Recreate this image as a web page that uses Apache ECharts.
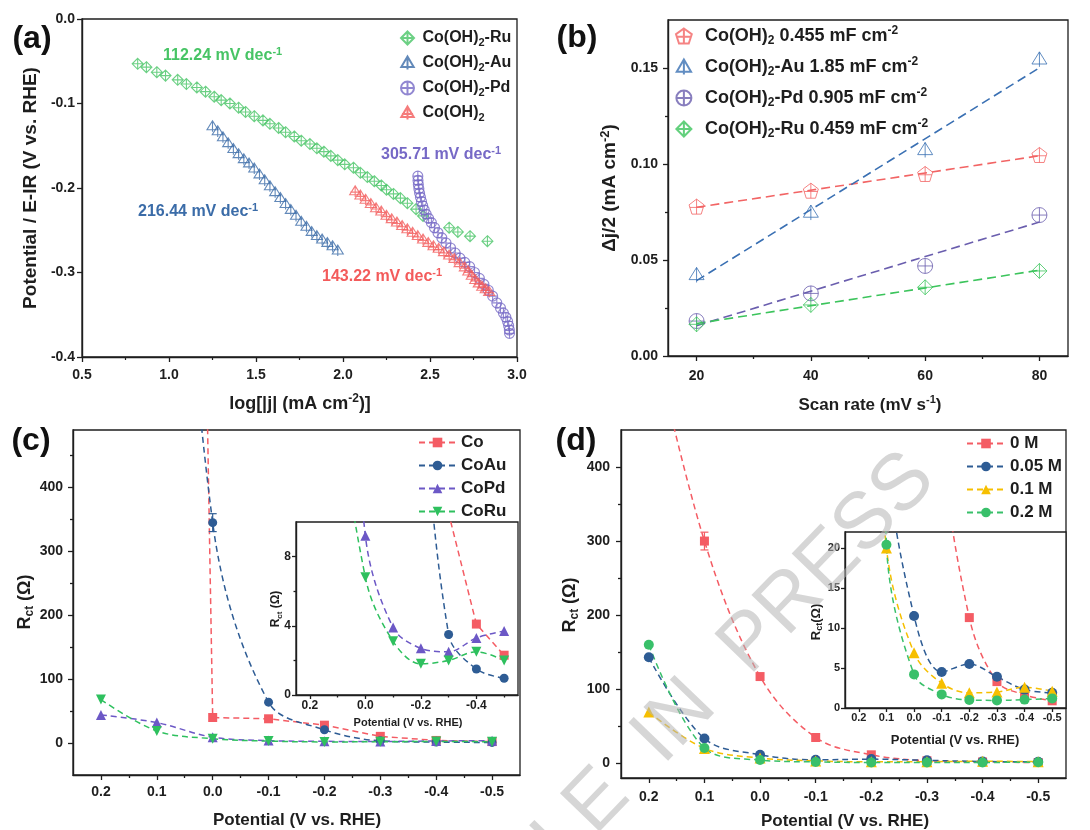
<!DOCTYPE html>
<html><head><meta charset="utf-8">
<script src="https://cdn.jsdelivr.net/npm/echarts@6/dist/echarts.min.js"></script>
<style>html,body{margin:0;padding:0;background:#fff}#c{width:1090px;height:830px}</style>
</head><body><div id="c"></div><script>
// ================= DATA =================
// (a) Tafel plots: log|j| vs potential
const tafelRuX = [0.82,0.87,0.93,0.98,1.05,1.10,1.16,1.21,1.26,1.30,1.35,1.40,1.44,1.49,1.54,1.58,1.63,1.67,1.72,1.76,1.81,1.85,1.89,1.93,1.97,2.01,2.06,2.10,2.14,2.18,2.22,2.25,2.29,2.33,2.37,2.42,2.46,2.61,2.66,2.73,2.83];
const tafelRuY = [-0.053,-0.057,-0.063,-0.067,-0.072,-0.077,-0.081,-0.086,-0.092,-0.096,-0.100,-0.105,-0.110,-0.115,-0.120,-0.124,-0.129,-0.134,-0.139,-0.144,-0.148,-0.153,-0.157,-0.162,-0.167,-0.172,-0.176,-0.182,-0.187,-0.192,-0.197,-0.202,-0.207,-0.212,-0.218,-0.225,-0.233,-0.247,-0.252,-0.257,-0.263];
const tafelAuX = [1.25,1.28,1.31,1.34,1.37,1.40,1.43,1.46,1.49,1.52,1.55,1.58,1.61,1.64,1.67,1.70,1.73,1.76,1.79,1.82,1.85,1.88,1.91,1.94,1.97];
const tafelAuY = [-0.127,-0.133,-0.140,-0.147,-0.154,-0.160,-0.166,-0.171,-0.177,-0.184,-0.191,-0.198,-0.205,-0.212,-0.219,-0.226,-0.233,-0.240,-0.246,-0.252,-0.257,-0.261,-0.265,-0.269,-0.274];
const tafelPdX = [2.430,2.431,2.433,2.436,2.440,2.445,2.451,2.458,2.467,2.478,2.492,2.508,2.526,2.546,2.568,2.592,2.618,2.645,2.672,2.700,2.728,2.756,2.784,2.810,2.835,2.860,2.884,2.905,2.922,2.936,2.946,2.952,2.956,2.957];
const tafelPdY = [-0.186,-0.191,-0.196,-0.201,-0.206,-0.211,-0.216,-0.221,-0.226,-0.231,-0.236,-0.241,-0.247,-0.253,-0.259,-0.265,-0.271,-0.277,-0.283,-0.288,-0.293,-0.300,-0.307,-0.314,-0.321,-0.328,-0.336,-0.342,-0.348,-0.353,-0.358,-0.363,-0.368,-0.372];
const tafelCoX = [2.07,2.10,2.13,2.16,2.19,2.22,2.25,2.28,2.31,2.34,2.37,2.40,2.43,2.46,2.49,2.52,2.55,2.58,2.61,2.64,2.67,2.70,2.72,2.74,2.76,2.78,2.80,2.82,2.84];
const tafelCoY = [-0.204,-0.209,-0.214,-0.219,-0.224,-0.228,-0.233,-0.237,-0.241,-0.245,-0.249,-0.253,-0.257,-0.261,-0.265,-0.269,-0.272,-0.276,-0.280,-0.284,-0.289,-0.294,-0.299,-0.304,-0.309,-0.313,-0.317,-0.320,-0.323];
const tafelSlopes = ['112.24','216.44','305.71','143.22'];

// (b) double-layer capacitance
const scanRates = [20, 40, 60, 80];
const cdlCo = [0.0778, 0.0861, 0.0948, 0.1047];
const cdlAu = [0.0422, 0.0747, 0.1073, 0.1545];
const cdlPd = [0.0182, 0.0326, 0.0469, 0.0734];
const cdlRu = [0.0165, 0.0266, 0.0358, 0.0443];
const cdlLabels = ['0.455', '1.85', '0.905', '0.459'];

// (c),(d) charge-transfer resistance vs potential
const potentials = [0.2, 0.1, 0.0, -0.1, -0.2, -0.3, -0.4, -0.5];
const rctCo   = [null, 5000, 40, 38, 28, 10.5, 4.1, 2.3];
const rctCoAu = [null, 1400, 345, 64, 20.8, 3.5, 1.5, 0.97];
const rctCoPd = [44, 32, 9.2, 3.9, 2.7, 2.5, 3.3, 3.7];
const rctCoRu = [68, 19, 6.8, 3.1, 1.8, 2.0, 2.5, 2.0];
const errCoAu = [0, 0, 14, 0, 0, 0, 0, 0];
const rct0M   = [600, 300, 117, 34.7, 11.3, 3.3, 1.65, 0.9];
const rct005M = [143, 33.3, 11.5, 4.5, 5.5, 3.9, 2.3, 1.9];
const rct01M  = [69, 20, 6.9, 3.1, 1.9, 2.0, 2.6, 2.1];
const rct02M  = [160, 20.4, 4.2, 1.7, 1.0, 0.95, 1.05, 1.2];
const err0M   = [0, 12, 0, 0, 0, 0, 0, 0];

// tick values
const ticksB_x = [20, 40, 60, 80];
const ticksB_y = [0, 0.05, 0.10, 0.15];
const ticksPot = [0.2, 0.1, 0.0, -0.1, -0.2, -0.3, -0.4, -0.5];
const ticksPotInsetC = [0.2, 0.0, -0.2, -0.4];
const ticksRct = [0, 100, 200, 300, 400];
const ticksInsetC_y = [0, 4, 8];
const ticksInsetD_y = [0, 5, 10, 15, 20];

// ================= STYLE =================
const FONT = '"Liberation Sans", Arial, Helvetica, sans-serif';
const INK = '#1e1e1e';
const C = {
  aGreen:'#47c465', aBlue:'#3b6ca8', aPurple:'#7669c6', aRed:'#f35b5b',
  bRed:'#f26464', bBlue:'#3a70b3', bPurple:'#6a5eae', bGreen:'#3cc45c',
  red:'#f45c64', blue:'#2e5c94', purple:'#6c58c6', green:'#2ec05e', gold:'#f6bf00', green2:'#39c06a'
};
const SYM = {
  diamondX: 'path://M0,-10L10,0L0,10L-10,0Z M0,-10L0,10 M-10,0L10,0',
  triV: 'path://M0,-10L10,7L-10,7Z M0,-10L0,11',
  triX: 'path://M0,-10L10,7L-10,7Z M0,-10L0,11 M-9,2L9,2',
  circleX: 'path://M-10,0A10,10 0 1,1 10,0A10,10 0 1,1 -10,0Z M0,-10L0,10 M-10,0L10,0',
  pentX: 'path://M0,-10L9.51,-3.09L5.88,8.09L-5.88,8.09L-9.51,-3.09Z M0,-10L0,8.09 M-8.5,0L8.5,0'
};

function pairs(xs, ys) { return xs.map((x, i) => [x, ys[i]]).filter(p => p[1] != null); }
function linFit(xs, ys) {
  const n = xs.length, mx = xs.reduce((a, b) => a + b) / n, my = ys.reduce((a, b) => a + b) / n;
  let sxy = 0, sxx = 0;
  for (let i = 0; i < n; i++) { sxy += (xs[i] - mx) * (ys[i] - my); sxx += (xs[i] - mx) ** 2; }
  const b = sxy / sxx, a = my - b * mx;
  return [[xs[0], a + b * xs[0]], [xs[n - 1], a + b * xs[n - 1]]];
}
function rt(size, color) {
  const sub = Math.round(size * 0.66), lh = Math.round(size * 0.5);
  return {
    t:{fontSize:size, fontWeight:'bold', fontFamily:FONT, fill:color, color:color, lineHeight:size + 4},
    s:{fontSize:sub, fontWeight:'bold', fontFamily:FONT, fill:color, color:color, lineHeight:lh, verticalAlign:'bottom'},
    p:{fontSize:sub, fontWeight:'bold', fontFamily:FONT, fill:color, color:color, lineHeight:lh, verticalAlign:'top'}
  };
}
function lab(size, fmt, margin, custom) {
  const o = {show:true, color:INK, fontSize:size, fontWeight:'bold', fontFamily:FONT, margin:margin, formatter:fmt};
  if (custom) o.customValues = custom;
  return o;
}
function tick(len, custom) {
  const o = {show:true, inside:false, length:len, lineStyle:{color:INK, width:1.3}};
  if (custom) o.customValues = custom;
  return o;
}
function axis(grid, pos, min, max, extra) {
  return Object.assign({
    gridIndex:grid, type:'value', position:pos, min:min, max:max,
    axisLine:{show:true, onZero:false, lineStyle:{color:INK, width:1.4}},
    splitLine:{show:false}, minorSplitLine:{show:false}
  }, extra);
}
function minorAxis(grid, pos, min, max, inverse, vals, len) {
  return axis(grid, pos, min, max, {inverse:!!inverse, axisLine:{show:false, onZero:false},
    axisLabel:{show:false}, axisTick:tick(len || 3, vals)});
}
const f1 = v => (+v).toFixed(1), f2 = v => (+v).toFixed(2), f0 = v => String(Math.round(v));
const half = arr => arr.slice(0, -1).map((v, i) => +((v + arr[i + 1]) / 2).toFixed(3));

// ================= AXES =================
const xAxis = [
  axis(0, 'bottom', 0.5, 3.0, {interval:0.5, axisLabel:lab(14, f1, 11), axisTick:tick(5),
    minorTick:{show:true, splitNumber:2, length:3, lineStyle:{color:INK, width:1.2}}}),
  axis(1, 'bottom', 15, 85, {axisLabel:lab(14, f0, 13, ticksB_x), axisTick:tick(5, ticksB_x)}),
  minorAxis(1, 'bottom', 15, 85, false, half(ticksB_x)),
  axis(2, 'bottom', -0.55, 0.25, {inverse:true, axisLabel:lab(14, f1, 10, ticksPot), axisTick:tick(5, ticksPot)}),
  minorAxis(2, 'bottom', -0.55, 0.25, true, half(ticksPot)),
  axis(3, 'bottom', -0.55, 0.25, {inverse:true, axisLabel:lab(12, f1, 5, ticksPotInsetC), axisTick:tick(4, ticksPotInsetC)}),
  minorAxis(3, 'bottom', -0.55, 0.25, true, [0.1, -0.1, -0.3, -0.5], 2.5),
  axis(4, 'bottom', -0.55, 0.25, {inverse:true, axisLabel:lab(14, f1, 12, ticksPot), axisTick:tick(5, ticksPot)}),
  minorAxis(4, 'bottom', -0.55, 0.25, true, half(ticksPot)),
  axis(5, 'bottom', -0.55, 0.25, {inverse:true, axisLabel:lab(11, f1, 4, ticksPot), axisTick:tick(4, ticksPot)})
];
const yAxis = [
  axis(0, 'left', -0.4, 0, {interval:0.1, axisLabel:lab(14, f1, 7), axisTick:tick(5)}),
  axis(1, 'left', 0, 0.175, {axisLabel:lab(14, f2, 10, ticksB_y), axisTick:tick(5, ticksB_y)}),
  minorAxis(1, 'left', 0, 0.175, false, [0.025, 0.075, 0.125]),
  axis(2, 'left', -50, 490, {axisLabel:lab(14, f0, 10, ticksRct), axisTick:tick(5, ticksRct)}),
  minorAxis(2, 'left', -50, 490, false, [50, 150, 250, 350, 450]),
  axis(3, 'left', 0, 10, {axisLabel:lab(12, f0, 5, ticksInsetC_y), axisTick:tick(4, ticksInsetC_y)}),
  minorAxis(3, 'left', 0, 10, false, [2, 6], 2.5),
  axis(4, 'left', -20, 450, {axisLabel:lab(14, f0, 11, ticksRct), axisTick:tick(5, ticksRct)}),
  minorAxis(4, 'left', -20, 450, false, [50, 150, 250, 350]),
  axis(5, 'left', 0, 22, {axisLabel:lab(11, f0, 5, ticksInsetD_y), axisTick:tick(4, ticksInsetD_y)})
];
const gridBase = {show:true, borderColor:INK, borderWidth:1.3, containLabel:false, outerBoundsMode:'none'};
const grid = [
  Object.assign({left:82, top:19, width:435, height:338, backgroundColor:'transparent'}, gridBase),
  Object.assign({left:668, top:20, width:400, height:336, backgroundColor:'transparent'}, gridBase),
  Object.assign({left:73, top:430, width:447, height:345, backgroundColor:'transparent'}, gridBase),
  Object.assign({left:296, top:522, width:222, height:173, backgroundColor:'#fff'}, gridBase),
  Object.assign({left:621, top:430, width:445, height:348, backgroundColor:'transparent'}, gridBase),
  Object.assign({left:845, top:532, width:221, height:176, backgroundColor:'#fff'}, gridBase)
];

// ================= SERIES =================
function sc(name, xs, ys, sym, size, color) {
  return {type:'scatter', name, xAxisIndex:0, yAxisIndex:0, data:pairs(xs, ys), symbol:sym, symbolSize:size,
    itemStyle:{color:'rgba(255,255,255,0)', borderColor:color, borderWidth:1.1}, z:3};
}
function scB(name, ys, sym, color) {
  return {type:'scatter', name, xAxisIndex:1, yAxisIndex:1, data:pairs(scanRates, ys), symbol:sym, symbolSize:15,
    itemStyle:{color:'rgba(255,255,255,0)', borderColor:color, borderWidth:1}, z:3};
}
function fitB(ys, color) {
  return {type:'line', name:'fit', xAxisIndex:1, yAxisIndex:1, data:linFit(scanRates, ys), symbol:'none', silent:true,
    lineStyle:{color, width:1.6, type:[9, 5]}, z:2};
}
function ln(name, ax, ys, sym, color, size, rot, smooth) {
  return {type:'line', name, xAxisIndex:ax, yAxisIndex:ax, data:pairs(potentials, ys), symbol:sym, symbolSize:size || 9,
    symbolRotate:rot || 0, smooth:smooth == null ? 0.35 : smooth, clip:true, itemStyle:{color},
    lineStyle:{color, width:1.5, type:[6, 4]}, z:3};
}
function errBars(ax, ys, errs, color) {
  const d = potentials.map((p, i) => [p, ys[i], errs[i]]).filter(r => r[2] > 0);
  return {type:'custom', xAxisIndex:ax, yAxisIndex:ax, data:d, silent:true, z:4,
    renderItem:(params, api) => {
      const x = api.value(0), y = api.value(1), e = api.value(2);
      const t = api.coord([x, y + e]), b = api.coord([x, y - e]), w = 4;
      const st = {stroke:color, lineWidth:1.2};
      return {type:'group', children:[
        {type:'line', shape:{x1:t[0], y1:t[1], x2:b[0], y2:b[1]}, style:st},
        {type:'line', shape:{x1:t[0] - w, y1:t[1], x2:t[0] + w, y2:t[1]}, style:st},
        {type:'line', shape:{x1:b[0] - w, y1:b[1], x2:b[0] + w, y2:b[1]}, style:st}]};
    }};
}
const nB = ['Co(OH)2 ' + cdlLabels[0], 'Co(OH)2-Au ' + cdlLabels[1], 'Co(OH)2-Pd ' + cdlLabels[2], 'Co(OH)2-Ru ' + cdlLabels[3]];
const series = [
  sc('Co(OH)2-Ru', tafelRuX, tafelRuY, SYM.diamondX, 11, C.aGreen),
  sc('Co(OH)2-Au', tafelAuX, tafelAuY, SYM.triV, 11, C.aBlue),
  sc('Co(OH)2-Pd', tafelPdX, tafelPdY, SYM.circleX, 10, C.aPurple),
  sc('Co(OH)2', tafelCoX, tafelCoY, SYM.triX, 11, C.aRed),
  fitB(cdlCo, C.bRed), fitB(cdlAu, C.bBlue), fitB(cdlPd, C.bPurple), fitB(cdlRu, C.bGreen),
  scB(nB[0], cdlCo, SYM.pentX, C.bRed), scB(nB[1], cdlAu, SYM.triV, C.bBlue),
  scB(nB[2], cdlPd, SYM.circleX, C.bPurple), scB(nB[3], cdlRu, SYM.diamondX, C.bGreen),
  ln('Co', 3, rctCo, 'rect', C.red, 9, 0, false), ln('CoAu', 3, rctCoAu, 'circle', C.blue, 9),
  ln('CoPd', 3, rctCoPd, 'triangle', C.purple, 10), ln('CoRu', 3, rctCoRu, 'triangle', C.green, 10, 180),
  errBars(3, rctCoAu, errCoAu, C.blue),
  ln('Co', 5, rctCo, 'rect', C.red, 9, 0, false), ln('CoAu', 5, rctCoAu, 'circle', C.blue, 9),
  ln('CoPd', 5, rctCoPd, 'triangle', C.purple, 10), ln('CoRu', 5, rctCoRu, 'triangle', C.green, 10, 180),
  ln('0 M', 7, rct0M, 'rect', C.red, 9), ln('0.05 M', 7, rct005M, 'circle', C.blue, 10),
  ln('0.1 M', 7, rct01M, 'triangle', C.gold, 11), ln('0.2 M', 7, rct02M, 'circle', C.green2, 10),
  errBars(7, rct0M, err0M, C.red),
  ln('0 M', 9, rct0M, 'rect', C.red, 9), ln('0.05 M', 9, rct005M, 'circle', C.blue, 10),
  ln('0.1 M', 9, rct01M, 'triangle', C.gold, 11), ln('0.2 M', 9, rct02M, 'circle', C.green2, 10)
];

// ================= LEGENDS =================
const richLegend = {
  'Co(OH)2-Ru':'{t|Co(OH)}{s|2}{t|-Ru}', 'Co(OH)2-Au':'{t|Co(OH)}{s|2}{t|-Au}',
  'Co(OH)2-Pd':'{t|Co(OH)}{s|2}{t|-Pd}', 'Co(OH)2':'{t|Co(OH)}{s|2}'
};
richLegend[nB[0]] = '{t|Co(OH)}{s|2}{t| ' + cdlLabels[0] + ' mF cm}{p|-2}';
richLegend[nB[1]] = '{t|Co(OH)}{s|2}{t|-Au ' + cdlLabels[1] + ' mF cm}{p|-2}';
richLegend[nB[2]] = '{t|Co(OH)}{s|2}{t|-Pd ' + cdlLabels[2] + ' mF cm}{p|-2}';
richLegend[nB[3]] = '{t|Co(OH)}{s|2}{t|-Ru ' + cdlLabels[3] + ' mF cm}{p|-2}';
const legTxt = (size, lh, rich, pad) => {
  const o = {color:INK, fontSize:size, fontWeight:'bold', fontFamily:FONT, lineHeight:lh};
  if (rich) o.rich = rich;
  if (pad) o.padding = [0, 0, 0, pad];
  return o;
};
const legend = [
  {data:['Co(OH)2-Ru','Co(OH)2-Au','Co(OH)2-Pd','Co(OH)2'], orient:'vertical', left:400, top:28, itemWidth:20, itemHeight:13,
   itemGap:5, selectedMode:false, padding:0, textStyle:legTxt(16, 20, rt(16, INK)), formatter:n => richLegend[n]},
  {data:nB, orient:'vertical', left:675, top:25, itemWidth:22, itemHeight:15, itemGap:9, selectedMode:false, padding:0,
   textStyle:legTxt(18, 22, rt(18, INK), 5), formatter:n => richLegend[n]},
  {data:['Co','CoAu','CoPd','CoRu'], orient:'vertical', left:418, top:432, itemWidth:37, itemHeight:12, itemGap:2,
   selectedMode:false, padding:0, textStyle:legTxt(17, 21)},
  {data:['0 M','0.05 M','0.1 M','0.2 M'], orient:'vertical', left:966, top:433, itemWidth:38, itemHeight:12, itemGap:2,
   selectedMode:false, padding:0, textStyle:legTxt(17, 21)}
];

// ================= TEXT =================
function gt(x, y, text, size, color, opt) {
  opt = opt || {};
  return {type:'text', x, y, rotation:opt.rot || 0, z:50, silent:true,
    style:{text, rich:rt(size, color), fill:color, font:'bold ' + size + 'px ' + FONT,
      align:opt.align || 'center', verticalAlign:'middle'}};
}
const R = Math.PI / 2;
const graphic = [
  gt(32, 39, '{t|(a)}', 32, '#111'), gt(577, 38, '{t|(b)}', 32, '#111'),
  gt(31, 441, '{t|(c)}', 32, '#111'), gt(576, 441, '{t|(d)}', 32, '#111'),
  gt(31, 188, '{t|Potential / E-IR (V vs. RHE)}', 19, INK, {rot:R}),
  gt(300, 404, '{t|log[|j| (mA cm}{p|-2}{t|)]}', 18, INK),
  gt(610, 188, '{t|Δj/2 (mA cm}{p|-2}{t|)}', 19, INK, {rot:R}),
  gt(870, 405, '{t|Scan rate (mV s}{p|-1}{t|)}', 17, INK),
  gt(25, 602, '{t|R}{s|ct}{t| (Ω)}', 18, INK, {rot:R}),
  gt(297, 820, '{t|Potential (V vs. RHE)}', 17, INK),
  gt(276, 609, '{t|R}{s|ct}{t| (Ω)}', 12, INK, {rot:R}),
  gt(408, 723, '{t|Potential (V vs. RHE)}', 11, INK),
  gt(570, 605, '{t|R}{s|ct}{t| (Ω)}', 18, INK, {rot:R}),
  gt(845, 821, '{t|Potential (V vs. RHE)}', 17, INK),
  gt(816, 622, '{t|R}{s|ct}{t|(Ω)}', 13, INK, {rot:R}),
  gt(955, 740, '{t|Potential (V vs. RHE)}', 13, INK),
  gt(163, 56, '{t|' + tafelSlopes[0] + ' mV dec}{p|-1}', 16, C.aGreen, {align:'left'}),
  gt(138, 212, '{t|' + tafelSlopes[1] + ' mV dec}{p|-1}', 16, C.aBlue, {align:'left'}),
  gt(381, 155, '{t|' + tafelSlopes[2] + ' mV dec}{p|-1}', 16, C.aPurple, {align:'left'}),
  gt(322, 277, '{t|' + tafelSlopes[3] + ' mV dec}{p|-1}', 16, C.aRed, {align:'left'}),
  {type:'text', x:922, y:466, rotation:46 * Math.PI / 180, z:100, silent:true,
   style:{text:'ARTICLE  IN  PRESS', font:'normal 80px ' + FONT, fill:'rgba(180,180,180,0.55)', align:'right', verticalAlign:'middle'}}
];

const chart = echarts.init(document.getElementById('c'), null, {renderer:'canvas', width:1090, height:830});
chart.setOption({animation:false, backgroundColor:'#fff', grid, xAxis, yAxis, series, legend, graphic});
</script></body></html>
